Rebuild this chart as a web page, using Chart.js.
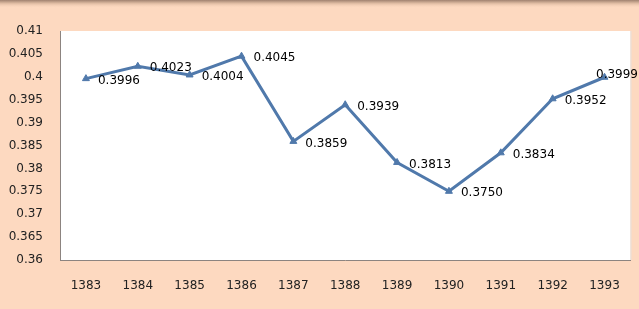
<!DOCTYPE html>
<html>
<head>
<meta charset="utf-8">
<script src="https://cdn.jsdelivr.net/npm/chart.js@4/dist/chart.umd.min.js"></script>
<style>
  html, body { margin: 0; padding: 0; background: #fdd9c0; }
  #wrap { width: 639px; height: 309px; }
</style>
</head>
<body>
<div id="wrap"><canvas id="lineChart" width="639" height="309"></canvas></div>
<script>
const years = ['1383', '1384', '1385', '1386', '1387', '1388', '1389', '1390', '1391', '1392', '1393'];
const values = [0.3996, 0.4023, 0.4004, 0.4045, 0.3859, 0.3939, 0.3813, 0.3750, 0.3834, 0.3952, 0.3999];
const yMin = 0.36;
const yMax = 0.41;
const yStep = 0.005;

// peach background, shadow strip on top, white plot area
const backdrop = {
    id: 'backdrop',
    beforeDraw(chart) {
        const c = chart.ctx;
        const a = chart.chartArea;
        c.save();
        c.fillStyle = '#fdd9c0';
        c.fillRect(0, 0, chart.width, chart.height);
        const g = c.createLinearGradient(0, 0, 0, 8);
        g.addColorStop(0, '#a08270');
        g.addColorStop(0.4, '#dcb9a0');
        g.addColorStop(1, 'rgba(253,217,192,0)');
        c.fillStyle = g;
        c.fillRect(0, 0, chart.width, 8);
        c.fillStyle = '#ffffff';
        c.fillRect(a.left, a.top, a.right - a.left, a.bottom - a.top);
        c.strokeStyle = '#e6e0dc';
        c.lineWidth = 1;
        c.beginPath();
        c.moveTo(a.right + 0.5, a.top);
        c.lineTo(a.right + 0.5, a.bottom);
        c.stroke();
        c.restore();
    }
};

// value labels to the right of each point (pulled back in if they would run off)
const pointLabels = {
    id: 'pointLabels',
    afterDatasetsDraw(chart) {
        const c = chart.ctx;
        const meta = chart.getDatasetMeta(0);
        c.save();
        c.font = '12px "DejaVu Sans", sans-serif';
        c.fillStyle = '#000000';
        c.textAlign = 'left';
        c.textBaseline = 'middle';
        meta.data.forEach(function (pt, i) {
            const txt = values[i].toFixed(4);
            let x = pt.x + 12;
            let y = pt.y + 2;
            const w = c.measureText(txt).width;
            if (x + w > chart.width - 1) {
                x = chart.width - 1 - w;
                y = pt.y - 2;
            }
            c.fillText(txt, x, y);
        });
        c.restore();
    }
};

new Chart(document.getElementById('lineChart').getContext('2d'), {
    type: 'line',
    data: {
        labels: years,
        datasets: [{
            data: values,
            borderColor: '#5079ab',
            backgroundColor: '#5079ab',
            borderWidth: 3,
            tension: 0,
            pointStyle: 'triangle',
            pointRadius: 4,
            pointHoverRadius: 4,
            pointBorderWidth: 1,
            fill: false
        }]
    },
    options: {
        responsive: false,
        animation: false,
        layout: { padding: { top: 31, right: 4, left: 0, bottom: 0 } },
        plugins: { legend: { display: false }, tooltip: { enabled: false } },
        scales: {
            x: {
                offset: true,
                grid: { display: false, drawTicks: false },
                border: { display: true, color: '#8c8480', width: 1 },
                ticks: { color: '#222', font: { family: 'DejaVu Sans', size: 12 }, padding: 19, maxRotation: 0 },
                afterFit(scale) { scale.height = 49; }
            },
            y: {
                min: yMin,
                max: yMax,
                grid: { display: false, drawTicks: false },
                border: { display: true, color: '#8c8480', width: 1 },
                ticks: {
                    stepSize: yStep,
                    color: '#222',
                    font: { family: 'DejaVu Sans', size: 12 },
                    padding: 17,
                    callback: function (v) { return parseFloat(v.toFixed(3)).toString(); }
                },
                afterFit(scale) { scale.width = 60; }
            }
        }
    },
    plugins: [backdrop, pointLabels]
});
</script>
</body>
</html>
